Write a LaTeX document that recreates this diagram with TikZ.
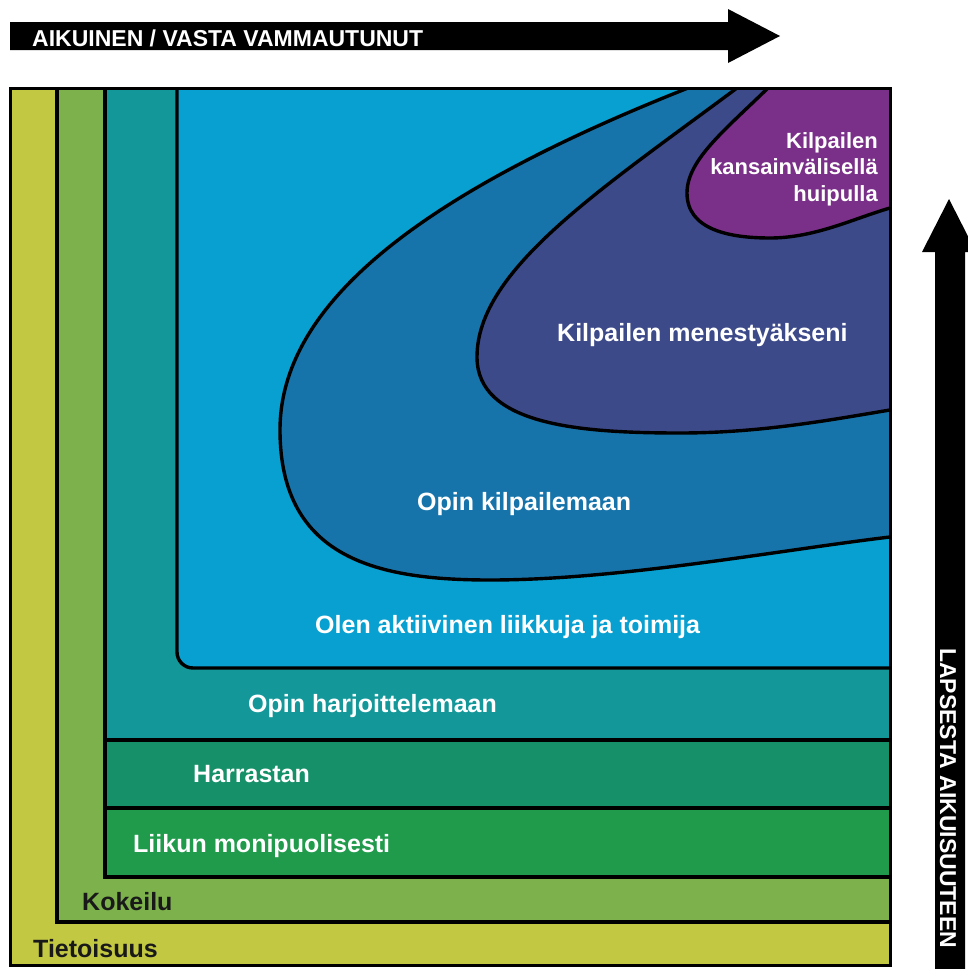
\documentclass[tikz,border=0pt]{standalone}
\usepackage{fontspec}
\setmainfont{Liberation Sans}
\usepackage{tikz}

\definecolor{tietoisuus}{RGB}{195,200,66}
\definecolor{kokeilu}{RGB}{124,177,75}
\definecolor{monipuolinen}{RGB}{31,155,75}
\definecolor{harrastus}{RGB}{22,144,104}
\definecolor{harjoittelu}{RGB}{19,151,153}
\definecolor{aktiivinen}{RGB}{8,160,208}
\definecolor{kilpailu}{RGB}{22,116,170}
\definecolor{menestys}{RGB}{61,74,138}
\definecolor{huippu}{RGB}{122,48,136}

\begin{document}
\begin{tikzpicture}[x=1pt,y=-1pt,
  layer/.style={draw=black,line width=3.4pt},
  lbl/.style={font=\bfseries\fontsize{25}{30}\selectfont,text=white,inner sep=0pt,anchor=base west},
  darklbl/.style={lbl,text=black!90},
  arrowlbl/.style={font=\bfseries\fontsize{23}{28}\selectfont,text=white,inner sep=0pt,anchor=base west}]
\useasboundingbox[fill=white] (0,0) rectangle (968,969);

\fill (10,22) -- (728,22) -- (728,9) -- (780,36) -- (728,63) -- (728,50) -- (10,50) -- cycle;
\fill (935,975) -- (935,252) -- (922,252) -- (949,199) -- (976,252) -- (965,252) -- (965,975) -- cycle;
\node[arrowlbl] (aikuinen) at (32,46) {AIKUINEN / VASTA VAMMAUTUNUT};
\node[arrowlbl,rotate=-90] (lapsesta) at (940,648) {LAPSESTA AIKUISUUTEEN};

\begin{scope}
\clip (10,88) rectangle (890,965);
\fill[tietoisuus] (10,88) rectangle (890,965);
\filldraw[layer,fill=kokeilu] (57,60) rectangle (920,922);
\filldraw[layer,fill=harjoittelu] (105,60) rectangle (920,877);
\filldraw[layer,fill=monipuolinen] (105,808) rectangle (920,877);
\filldraw[layer,fill=harrastus] (105,740) rectangle (920,808);
\filldraw[layer,fill=aktiivinen,rounded corners=16pt] (177,60) rectangle (920,668);
\filldraw[layer,fill=kilpailu] (718,76) -- (688,88) .. controls (430,190) and (280,300) .. (280,430)
  .. controls (280,560) and (380,580) .. (490,580) .. controls (620,580) and (780,550) .. (890,537)
  -- (930,532) -- (930,60) -- cycle;
\filldraw[layer,fill=menestys] (757,73) -- (737,88) .. controls (600,190) and (477,270) .. (477,357)
  .. controls (477,425) and (580,433) .. (680,433) .. controls (760,433) and (830,420) .. (890,410)
  -- (930,403) -- (930,60) -- cycle;
\filldraw[layer,fill=huippu] (783,73) -- (768,88) .. controls (725,130) and (687,160) .. (687,193)
  .. controls (687,230) and (730,238) .. (770,238) .. controls (815,238) and (855,218) .. (890,208)
  -- (930,197) -- (930,60) -- cycle;
\end{scope}
\draw[line width=3pt] (10,88) rectangle (890,965);

\node[darklbl] (tietoisuus) at (33,957) {Tietoisuus};
\node[darklbl] (kokeilu) at (82,910) {Kokeilu};
\node[lbl] (liikun) at (133,852) {Liikun monipuolisesti};
\node[lbl] (harrastan) at (193,782) {Harrastan};
\node[lbl] (harjoittelemaan) at (248,712) {Opin harjoittelemaan};
\node[lbl] (aktiivinen) at (315,633) {Olen aktiivinen liikkuja ja toimija};
\node[lbl] (kilpailemaan) at (417,510) {Opin kilpailemaan};
\node[lbl] (menestyaksen) at (557,341) {Kilpailen menestyäkseni};
\node[lbl,font=\bfseries\fontsize{22}{26.5}\selectfont,align=right,anchor=north east] (huipulla) at (878,132) {Kilpailen\\kansainvälisellä\\huipulla};
\end{tikzpicture}
\end{document}
